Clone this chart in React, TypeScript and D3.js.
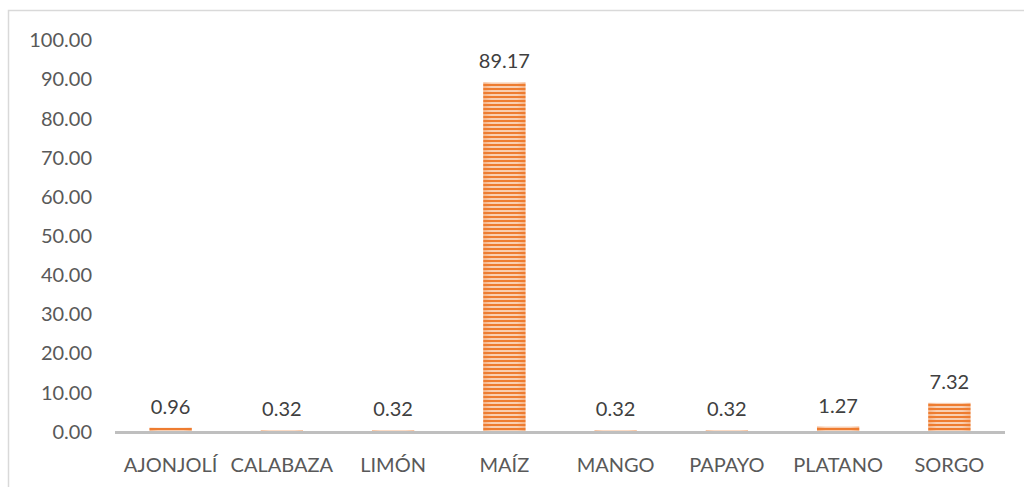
import * as d3 from "d3";

const categories = ["AJONJOLÍ", "CALABAZA", "LIMÓN", "MAÍZ", "MANGO", "PAPAYO", "PLATANO", "SORGO"];
const values = [0.96, 0.32, 0.32, 89.17, 0.32, 0.32, 1.27, 7.32];
const yTicks = [0, 10, 20, 30, 40, 50, 60, 70, 80, 90, 100];

const W = 1024;
const H = 487;
const FONT = "Lato, 'Open Sans', sans-serif";

export default function App() {
  const x = d3.scaleBand().domain(categories).range([115, 1005]).paddingInner(0.62).paddingOuter(0.31);
  const y = d3.scaleLinear().domain([0, 100]).range([431.5, 40]);

  return (
    <svg
      width={W}
      height={H}
      viewBox={`0 0 ${W} ${H}`}
      style={{ position: "absolute", left: 0, top: 0 }}
    >
      <defs>
        <pattern id="stripes" width="4" height="4" patternUnits="userSpaceOnUse">
          <rect width="4" height="4" fill="#f9cfb2" />
          <rect width="4" height="2" fill="#ee7c30" />
        </pattern>
        <linearGradient id="shade" x1="0" x2="1" y1="0" y2="0">
          <stop offset="0" stopColor="#ee7c30" stopOpacity="0.35" />
          <stop offset="0.2" stopColor="#ee7c30" stopOpacity="0" />
          <stop offset="0.8" stopColor="#ee7c30" stopOpacity="0" />
          <stop offset="1" stopColor="#ee7c30" stopOpacity="0.35" />
        </linearGradient>
      </defs>
      <rect x={0} y={0} width={W} height={H} fill="#fff" />
      <rect x={8.5} y={10.5} width={W + 10} height={H + 10} fill="none" stroke="#d9d9d9" strokeWidth={1.5} />

      {yTicks.map((t) => (
        <text
          key={t}
          x={92}
          y={y(t)}
          dy="0.36em"
          textAnchor="end"
          fontFamily={FONT}
          fontSize={20}
          fill="#595959"
        >
          {d3.format(".2f")(t)}
        </text>
      ))}

      {categories.map((c, i) => {
        const bx = x(c)!;
        const bw = x.bandwidth();
        const top = y(values[i]);
        const h = y(0) - top;
        return (
          <g key={c}>
            <rect x={bx} y={top} width={bw} height={h} fill="url(#stripes)" />
            <rect x={bx} y={top} width={bw} height={h} fill="url(#shade)" />
            <text
              x={bx + bw / 2}
              y={top - 14}
              textAnchor="middle"
              fontFamily={FONT}
              fontSize={20}
              fill="#404040"
            >
              {d3.format(".2f")(values[i])}
            </text>
            <text
              x={bx + bw / 2}
              y={471.5}
              textAnchor="middle"
              fontFamily={FONT}
              fontSize={20}
              fill="#595959"
            >
              {c}
            </text>
          </g>
        );
      })}

      <line x1={115} x2={1005} y1={y(0) + 1} y2={y(0) + 1} stroke="#bfbfbf" strokeWidth={3} />
    </svg>
  );
}
